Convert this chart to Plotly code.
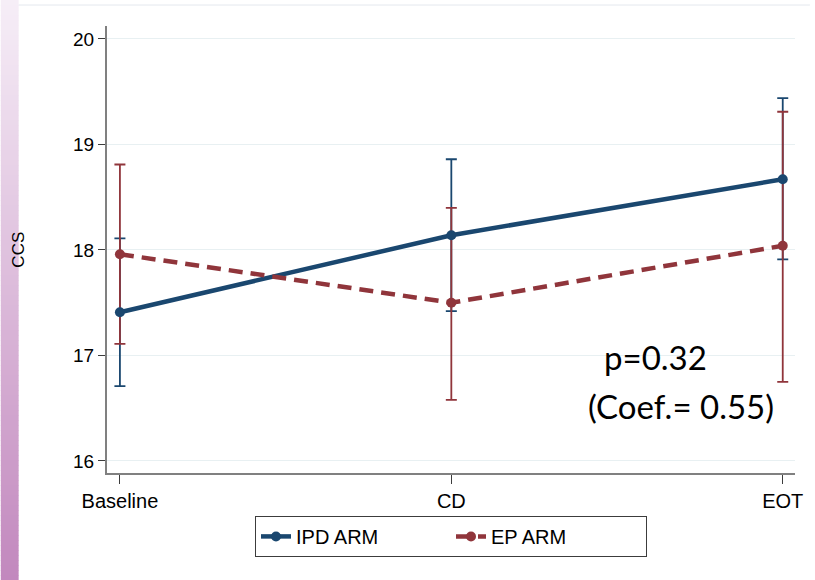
import plotly.graph_objects as go

# ---- data ----
categories = ["Baseline", "CD", "EOT"]
ipd_mean = [17.41, 18.14, 18.67]
ipd_low = [16.71, 17.42, 17.91]
ipd_high = [18.11, 18.86, 19.44]
ep_mean = [17.96, 17.50, 18.04]
ep_low = [17.11, 16.58, 16.75]
ep_high = [18.81, 18.40, 19.31]
y_ticks = [16, 17, 18, 19, 20]

BLUE = "rgb(26,71,111)"
RED = "rgb(144,53,59)"

W, H = 815, 580
ML, MR, MT, MB = 107, 15, 26, 107
PW, PH = W - ML - MR, H - MT - MB


def px_x(x):
    return (x - ML) / PW


def px_y(y):
    return (H - MB - y) / PH


fig = go.Figure()

# error bars (drawn first, below lines)
for mean, lo, hi, col in [(ipd_mean, ipd_low, ipd_high, BLUE), (ep_mean, ep_low, ep_high, RED)]:
    fig.add_trace(go.Scatter(
        x=categories, y=mean, mode="markers",
        marker=dict(size=1, color="rgba(0,0,0,0)"),
        error_y=dict(type="data", symmetric=False,
                     array=[h - m for h, m in zip(hi, mean)],
                     arrayminus=[m - l for m, l in zip(mean, lo)],
                     color=col, thickness=1.8, width=5.5),
        showlegend=False, hoverinfo="skip"))

fig.add_trace(go.Scatter(
    x=categories, y=ipd_mean, mode="lines+markers", name="IPD ARM",
    line=dict(color=BLUE, width=4.5),
    marker=dict(size=10, color=BLUE)))
fig.add_trace(go.Scatter(
    x=categories, y=ep_mean, mode="lines+markers", name="EP ARM",
    line=dict(color=RED, width=4.5, dash="14px,8px"),
    marker=dict(size=10, color=RED)))

# left gradient strip
shapes = []
n = 116
top = (246, 238, 247)
bot = (194, 136, 190)
for i in range(n):
    t = i / (n - 1)
    c = tuple(round(top[k] + (bot[k] - top[k]) * t) for k in range(3))
    y0 = i * H / n
    y1 = (i + 1) * H / n + 0.5
    shapes.append(dict(type="rect", xref="paper", yref="paper",
                       x0=px_x(0), x1=px_x(18), y0=px_y(y1), y1=px_y(y0),
                       fillcolor="rgb(%d,%d,%d)" % c, line=dict(width=0), layer="below"))
# panel border
shapes.append(dict(type="line", xref="paper", yref="paper",
                   x0=px_x(18), x1=px_x(W), y0=px_y(5), y1=px_y(5),
                   line=dict(color="rgb(228,232,238)", width=1)))

fig.update_layout(
    width=W, height=H,
    margin=dict(l=ML, r=MR, t=MT, b=MB),
    paper_bgcolor="white", plot_bgcolor="white",
    font=dict(family="Liberation Sans, Arial, sans-serif", color="black"),
    shapes=shapes,
    xaxis=dict(type="category", categoryarray=categories, range=[-0.039, 2.037],
               showgrid=False, zeroline=False,
               showline=True, linecolor="rgb(128,128,128)", linewidth=2,
               ticks="outside", ticklen=9, tickwidth=1, tickcolor="rgb(60,60,60)",
               tickfont=dict(size=20)),
    yaxis=dict(range=[15.886, 20.123], tickvals=y_ticks,
               showgrid=True, gridcolor="rgb(232,240,242)", gridwidth=1,
               zeroline=False,
               showline=True, linecolor="rgb(128,128,128)", linewidth=2,
               ticks="outside", ticklen=7, tickwidth=1, tickcolor="rgb(60,60,60)",
               tickfont=dict(size=19)),
    legend=dict(orientation="h", x=0.5, xanchor="center", y=-0.096, yanchor="top",
                bordercolor="rgb(60,60,60)", borderwidth=1,
                font=dict(size=20), entrywidth=150),
    annotations=[
        dict(text="CCS", xref="paper", yref="paper", x=px_x(17), y=px_y(250),
             xanchor="center", yanchor="middle", showarrow=False, textangle=-90,
             font=dict(size=17, color="black")),
        dict(text="p=0.32", xref="paper", yref="paper", x=px_x(659), y=px_y(357),
             xanchor="center", yanchor="middle", showarrow=False,
             font=dict(family="Lato, sans-serif", size=33, color="black")),
        dict(text="(Coef.= 0.55)", xref="paper", yref="paper", x=px_x(685), y=px_y(406),
             xanchor="center", yanchor="middle", showarrow=False,
             font=dict(family="Lato, sans-serif", size=33, color="black")),
    ],
)

fig.write_html("out.html", config={"displayModeBar": False},
               post_script="document.body.style.margin='0px';")
